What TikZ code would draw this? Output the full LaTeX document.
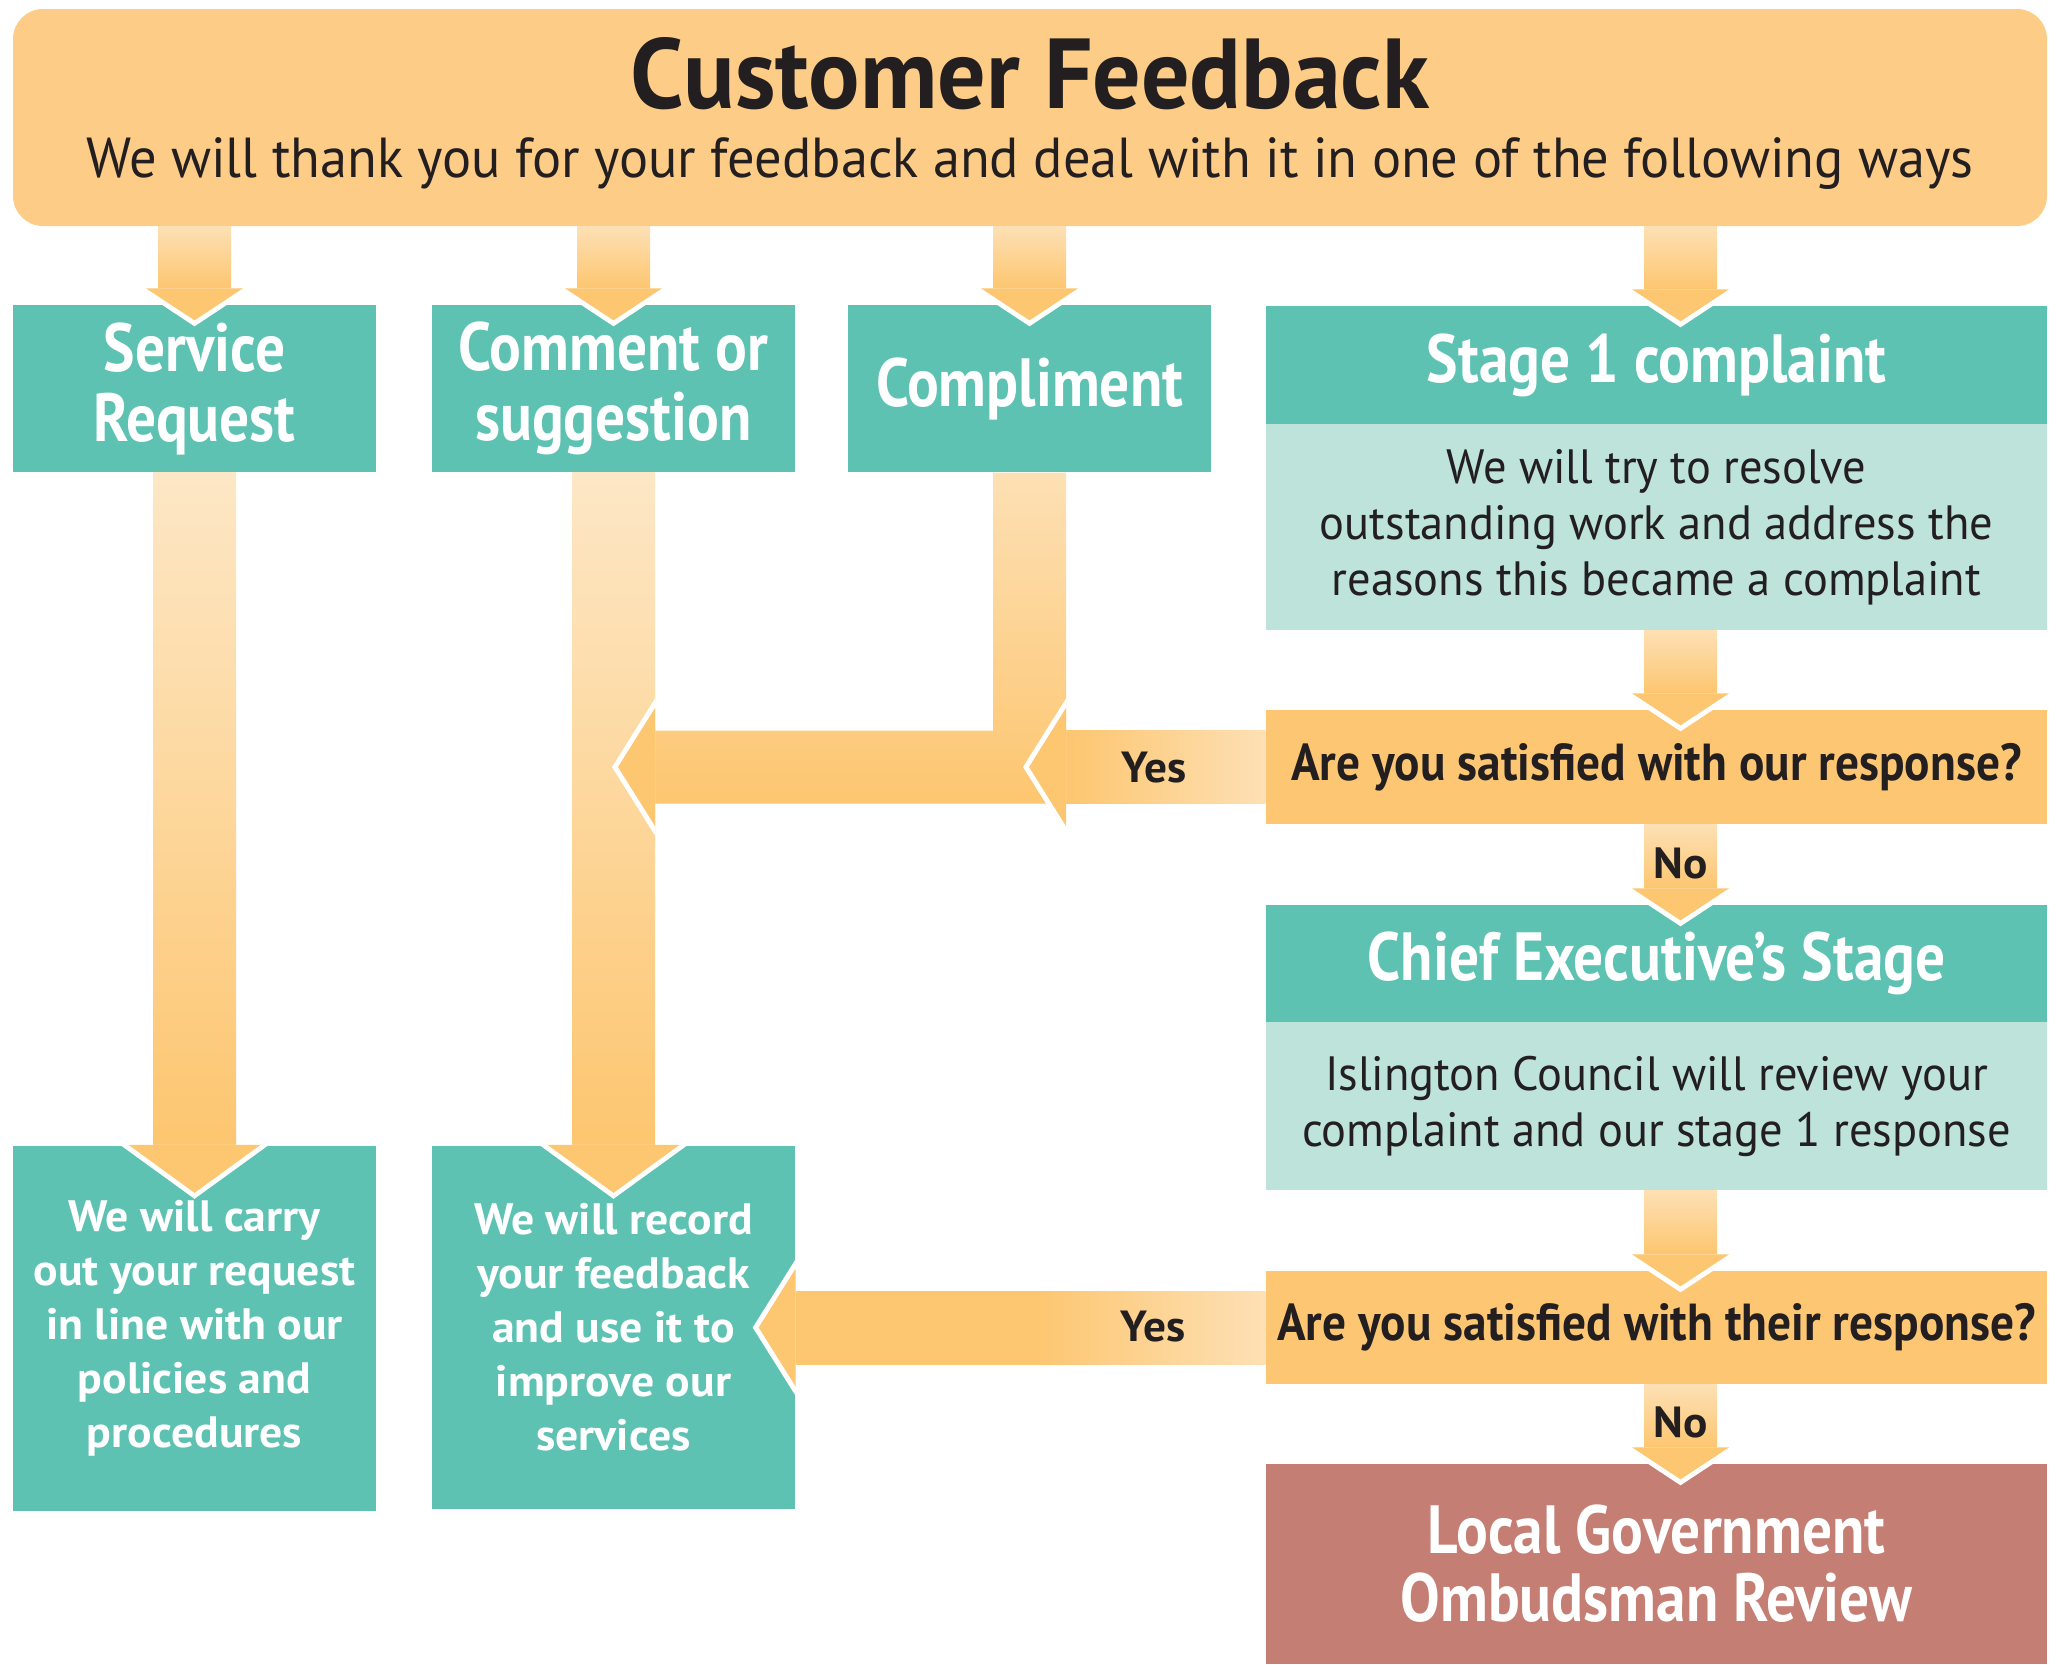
\documentclass[tikz,border=0pt]{standalone}
\usepackage{fontspec}
\setmainfont{PT Sans}[FakeStretch=0.87]
\newfontfamily\cfmid{PT Sans}[FakeStretch=0.91]
\newfontfamily\cfwide{PT Sans}[FakeStretch=0.965]
\newfontfamily\cffull{PT Sans}[FakeStretch=1.04]
\usetikzlibrary{calc}

\definecolor{cfteal}{RGB}{94,194,179}
\definecolor{cfpaleteal}{RGB}{189,227,219}
\definecolor{cforange}{RGB}{253,198,114}
\definecolor{cftitle}{RGB}{253,205,135}
\definecolor{cfombud}{RGB}{196,126,115}
\definecolor{cftext}{RGB}{35,31,32}
\definecolor{arrowlight}{RGB}{253,224,180}
\definecolor{arrowpale}{RGB}{253,231,198}
\definecolor{arrowdark}{RGB}{253,198,112}

\tikzset{
  box/.style={shape=rectangle, inner sep=0pt, align=center, minimum width=36.3mm},
  headbox/.style={box, fill=cfteal, text=white,
    font=\fontsize{19.4pt}{19.9pt}\selectfont\bfseries},
  widebox/.style={box, minimum width=78.1mm},
  bodybox/.style={widebox, fill=cfpaleteal, text=cftext,
    font=\cfwide\fontsize{13.7pt}{15.9pt}\selectfont},
  askbox/.style={widebox, fill=cforange, text=cftext,
    font=\cfmid\fontsize{14.8pt}{16pt}\selectfont\bfseries},
  resultbox/.style={box, fill=cfteal, text=white,
    font=\cffull\fontsize{12.5pt}{15.4pt}\selectfont\bfseries},
  answer/.style={inner sep=0pt, text=cftext,
    font=\cffull\fontsize{12.4pt}{13pt}\selectfont\bfseries},
}

% short block arrow: source, target, column
\newcommand{\shortdown}[3]{%
  \shade[top color=arrowlight, bottom color=arrowdark]
    ($(#3 |- #1.south)+(-36.5,0)$) rectangle ($(#3 |- #2.north)+(36.5,-16)$);
  \fill[white] ($(#3 |- #2.north)+(-57.5,-16)$) -- ($(#3 |- #2.north)+(57.5,-16)$)
    -- ($(#3 |- #2.north)+(0,22)$) -- cycle;
  \fill[arrowdark] ($(#3 |- #2.north)+(-48.5,-16)$) -- ($(#3 |- #2.north)+(48.5,-16)$)
    -- ($(#3 |- #2.north)+(0,16)$) -- cycle;
}
% long block arrow: source, target
\newcommand{\longdown}[2]{%
  \shade[top color=arrowpale, bottom color=arrowdark]
    ($(#1.south)+(-41.5,0)$) rectangle ($(#2.north)+(41.5,0)$);
  \fill[white] ($(#2.north)+(-74.5,0)$) -- ($(#2.north)+(74.5,0)$)
    -- ($(#2.north)+(0,54)$) -- cycle;
  \fill[arrowdark] ($(#2.north)+(-66,0)$) -- ($(#2.north)+(66,0)$)
    -- ($(#2.north)+(0,48)$) -- cycle;
}
% arrow head pointing left, base at #1
\newcommand{\lefthead}[1]{%
  \fill[white] ($(#1)+(0,-68.5)$) -- ($(#1)+(0,68.5)$) -- ($(#1)+(-43,0)$) -- cycle;
  \fill[arrowdark] ($(#1)+(0,-59)$) -- ($(#1)+(0,59)$) -- ($(#1)+(-37,0)$) -- cycle;
}

\begin{document}
\begin{tikzpicture}[x=0.1mm, y=-0.1mm]
\useasboundingbox (0,0) rectangle (2066,1664);

\node[box, fill=cftitle, minimum width=203.4mm, minimum height=21.7mm,
  rounded corners=3mm] (title) at (1030,117.5) {};
\node[inner sep=0pt, text=cftext, font=\cfwide\fontsize{28.3pt}{30pt}\selectfont\bfseries]
  (heading) at (1030,74) {Customer Feedback};
\node[anchor=base, inner sep=0pt, text=cftext, font=\cfwide\fontsize{16.05pt}{17pt}\selectfont]
  (subheading) at (1030,177)
  {We will thank you for your feedback and deal with it in one of the following ways};

\node[headbox, minimum height=16.7mm] (sr) at (194.5,388.5) {Service\\Request};
\node[headbox, minimum height=16.7mm] (cs) at (613.5,388.5) {Comment or\\suggestion};
\node[headbox, minimum height=16.7mm] (cp) at (1029.5,388.5) {Compliment};

\node[headbox, widebox, minimum height=11.8mm] (stage1) at (1656.5,365) {Stage 1 complaint};
\node[bodybox, minimum height=20.6mm] (stage1body) at (1656.5,527)
  {We will try to resolve\\outstanding work and address the\\reasons this became a complaint};
\node[askbox, minimum height=11.4mm] (ask1) at (1656.5,767) {Are you satisfied with our response?};
\node[headbox, widebox, minimum height=11.7mm] (chief) at (1656.5,963.5) {Chief Executive’s Stage};
\node[bodybox, minimum height=16.8mm] (chiefbody) at (1656.5,1106)
  {Islington Council will review your\\complaint and our stage 1 response};
\node[askbox, minimum height=11.3mm] (ask2) at (1656.5,1327.5) {Are you satisfied with their response?};
\node[headbox, widebox, fill=cfombud, minimum height=20mm,
  font=\fontsize{19.4pt}{19.4pt}\selectfont\bfseries] (ombud) at (1656.5,1564)
  {Local Government\\Ombudsman Review};

\node[resultbox, minimum height=36.5mm] (srdone) at (194.5,1328)
  {We will carry\\out your request\\in line with our\\policies and\\procedures};
\node[resultbox, minimum height=36.3mm] (csdone) at (613.5,1327)
  {We will record\\your feedback\\and use it to\\improve our\\services};

\coordinate (col4) at (1680.5,0);

\begin{scope}
  \shortdown{title}{sr}{sr}
  \shortdown{title}{cs}{cs}
  \shortdown{title}{cp}{cp}
  \shortdown{title}{stage1}{col4}
  \shortdown{stage1body}{ask1}{col4}
  \shortdown{ask1}{chief}{col4}
  \shortdown{chiefbody}{ask2}{col4}
  \shortdown{ask2}{ombud}{col4}

  \longdown{sr}{srdone}
  \longdown{cs}{csdone}

  % compliment bends into the comment column
  \shade[top color=arrowlight, bottom color=arrowdark]
    ($(cp.south)+(-36.5,0)$) -- ($(cp.south)+(36.5,0)$)
    -- ($(cp |- ask1.west)+(36.5,36.5)$) -- ($(cs |- ask1.west)+(41.5,36.5)$)
    -- ($(cs |- ask1.west)+(41.5,-36.5)$) -- ($(cp |- ask1.west)+(-36.5,-36.5)$) -- cycle;
  \lefthead{$(cs |- ask1.west)+(41.5,0)$}

  % yes from stage 1
  \shade[left color=arrowdark, right color=arrowlight]
    ($(cp |- ask1.west)+(36.5,-36.5)$) rectangle ($(ask1.west)+(0,36.5)$);
  \lefthead{$(cp |- ask1.west)+(36.5,0)$}

  % yes from chief executive
  \shade[left color=arrowdark, right color=arrowlight, middle color=arrowdark]
    ($(csdone.east |- ask2.west)+(0,-36.5)$) rectangle ($(ask2.west)+(0,36.5)$);
  \lefthead{csdone.east |- ask2.west}
\end{scope}

\node[answer] (yes1) at (1154,768) {Yes};
\node[answer] (yes2) at (1153,1327) {Yes};
\node[answer] (no1) at (1680.5,863) {No};
\node[answer] (no2) at (1680.5,1422) {No};

\end{tikzpicture}
\end{document}
